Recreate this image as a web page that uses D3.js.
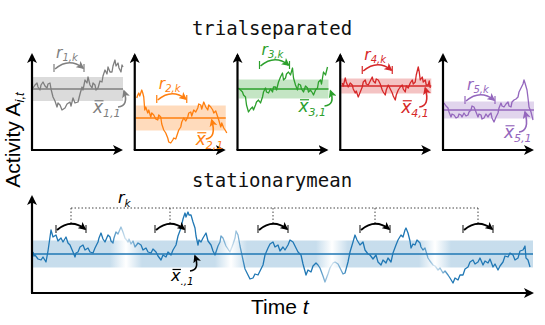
<!DOCTYPE html>
<html>
<head>
<meta charset="utf-8">
<script src="https://cdn.jsdelivr.net/npm/d3@7"></script>
<style>
body { margin: 0; background: #fff; }
</style>
</head>
<body>
<svg id="chart" width="545" height="325"></svg>
<script>
// activity traces, [time, activity]
const trial1 = [[0,6.2],[2,6.5],[4,6.7],[5,6.3],[7,6.0],[8,6.5],[10,6.8],[12,6.4],[14,6.2],[15,6.6],[17,6.7],[18,6.1],[20,5.3],[22,4.9],[24,4.3],[25,4.7],[27,4.5],[29,4.0],[32,4.2],[34,4.6],[37,4.8],[38,4.4],[40,5.2],[42,4.7],[45,4.8],[47,5.6],[49,6.3],[50,6.0],[52,7.0],[54,6.7],[55,7.3],[57,6.5],[59,6.2],[60,6.7],[62,6.5],[63,6.0],[65,6.2],[67,6.9],[69,6.8],[70,7.4],[72,8.0],[74,7.6],[75,8.3],[77,7.8],[79,7.8],[80,8.4],[82,9.0],[83,8.4],[85,8.7],[86,8.2],[88,7.8],[89,8.5],[90,8.3]];
const trial2 = [[1,5.2],[2,5.5],[3,5.7],[4,5.4],[6,6.0],[7,5.7],[8,5.3],[9,4.0],[10,4.3],[12,3.7],[13,4.0],[15,3.3],[16,3.7],[18,3.5],[20,3.1],[22,3.0],[23,3.5],[25,3.3],[26,2.6],[28,2.0],[30,1.7],[32,1.2],[33,0.8],[35,0.7],[37,1.0],[38,1.2],[40,1.1],[42,1.7],[43,2.0],[45,2.3],[46,2.8],[48,3.2],[50,2.9],[52,3.3],[53,3.7],[55,3.8],[56,3.4],[58,4.0],[60,3.8],[62,4.2],[63,4.6],[65,4.5],[66,4.1],[68,4.8],[70,4.3],[72,4.0],[73,4.5],[75,4.3],[77,4.0],[78,3.7],[80,3.9],[82,3.3],[83,3.0],[85,2.3],[86,2.7],[88,2.2],[90,1.9],[91,1.7]];
const trial3 = [[0,6.2],[2,6.0],[4,5.8],[5,5.5],[7,5.3],[8,4.5],[10,3.8],[12,4.1],[14,4.3],[15,4.0],[17,4.5],[18,4.8],[20,5.0],[22,4.7],[24,5.3],[25,5.8],[27,6.2],[28,5.8],[30,5.7],[32,6.1],[34,5.8],[35,6.3],[37,6.3],[38,6.0],[40,6.8],[42,7.3],[44,7.7],[45,7.0],[47,7.2],[48,7.6],[50,7.8],[52,7.5],[54,8.2],[55,7.2],[57,6.5],[59,6.0],[60,6.6],[62,6.5],[63,6.1],[65,5.8],[67,6.4],[69,6.2],[70,5.8],[72,6.0],[74,5.7],[75,5.5],[77,6.0],[79,6.2],[80,6.8],[82,7.0],[83,6.6],[85,7.8],[87,7.5],[89,8.3]];
const trial4 = [[1,6.7],[2,6.4],[4,7.2],[5,6.8],[7,6.3],[9,6.7],[11,6.5],[12,6.1],[14,5.7],[15,5.9],[17,5.3],[19,5.8],[21,6.3],[22,6.8],[24,7.0],[25,6.6],[27,6.5],[29,6.9],[31,7.3],[32,6.9],[34,6.7],[35,7.1],[37,7.0],[39,6.6],[41,6.0],[42,5.8],[44,5.5],[45,6.0],[47,6.5],[49,6.1],[51,5.7],[52,5.4],[54,5.0],[55,5.5],[57,6.0],[59,6.3],[61,6.5],[62,6.1],[64,5.8],[65,6.4],[67,6.2],[69,6.7],[71,7.0],[72,6.6],[74,6.8],[75,7.5],[77,8.3],[78,7.8],[79,7.0],[81,7.3],[82,6.8],[84,7.0],[85,6.5],[87,6.5],[88,6.9],[89,6.2]];
const trial5 = [[0,4.7],[2,4.4],[4,4.2],[5,3.8],[7,3.3],[8,3.6],[10,3.5],[12,3.2],[14,3.3],[15,3.6],[17,3.5],[18,3.3],[20,3.7],[22,3.4],[24,3.5],[25,3.8],[27,4.0],[28,4.4],[30,4.3],[32,3.8],[34,3.3],[35,3.6],[37,3.5],[38,3.1],[40,3.2],[42,3.6],[44,3.3],[45,3.5],[47,3.7],[48,3.2],[50,2.8],[52,3.3],[54,3.7],[55,4.2],[57,4.7],[58,4.4],[60,4.3],[62,4.6],[64,4.8],[65,4.4],[67,4.3],[68,4.8],[70,5.0],[72,5.1],[74,5.3],[75,5.8],[77,6.2],[79,6.6],[80,7.0],[81,6.7],[83,6.0],[84,5.2],[85,4.3],[87,3.8],[89,3.0]];

const trialSeries = [trial1, trial2, trial3, trial4, trial5];
const trialNames = ["1", "2", "3", "4", "5"];
const trialColors = ["#7f7f7f", "#ff7f0e", "#2ca02c", "#d62728", "#9467bd"];
const trialMeans = [6.1, 3.2, 6.1, 6.4, 4.0];
const trialStd = [1.2, 1.25, 0.95, 0.75, 0.85];
// where the annotations sit, in activity units
const bracketLevel = [8.2, 5.1, 8.5, 8.0, 5.0];
const meanLabelLevel = [3.7, 0.5, 3.8, 3.7, 1.2];
const meanArrowTime = [91, 76, 92, 84, 81];

// stationary mean: one long recording
const stationary = [[0,0.2],[1,-0.2],[2,-0.1],[5,-0.5],[8,-0.6],[10,-0.3],[13,-0.8],[15,0.3],[18,2.4],[20,1.7],[23,1.9],[25,1.3],[28,1.6],[30,1.2],[33,1.7],[35,1.1],[37,0.9],[40,0.2],[42,-0.3],[43,0.1],[45,0.2],[47,0.7],[50,0.9],[52,0.4],[55,0.6],[57,0.2],[60,0.1],[62,0.6],[65,1.2],[66,1.6],[68,2.1],[70,1.5],[72,1.2],[75,1.9],[77,1.7],[78,1.3],[80,1.1],[81,1.6],[83,2.2],[85,2.0],[88,2.7],[90,2.2],[92,1.6],[95,1.2],[96,1.5],[98,1.0],[100,1.3],[102,0.7],[105,1.1],[108,0.9],[110,0.4],[113,0.6],[115,0.2],[118,0.1],[120,0.5],[123,0.2],[125,-0.2],[128,-0.6],[130,-0.1],[133,-0.3],[135,0.2],[138,-0.1],[140,0.4],[143,0.9],[145,1.8],[148,2.6],[150,3.5],[152,4.1],[153,3.7],[155,4.2],[156,3.9],[158,3.9],[160,3.2],[162,2.6],[163,1.8],[165,0.9],[166,1.4],[168,1.2],[170,1.6],[173,2.1],[175,1.3],[178,0.9],[180,0.3],[182,-0.1],[185,0.8],[187,1.2],[188,1.8],[190,1.6],[193,0.8],[197,0.2],[200,1.0],[202,1.6],[203,2.3],[205,1.9],[207,0.8],[210,-0.6],[212,-1.5],[215,-2.1],[217,-2.5],[220,-2.4],[222,-2.0],[225,-2.1],[227,-1.7],[230,-1.1],[232,-0.1],[235,0.6],[237,1.0],[240,1.2],[242,0.7],[245,0.9],[247,0.3],[250,0.7],[252,0.4],[255,0.9],[257,1.4],[260,1.2],[262,0.8],[265,0.2],[268,-0.1],[270,-1.0],[273,-2.1],[275,-1.6],[278,-1.8],[280,-1.2],[283,-0.9],[285,-1.1],[287,-1.4],[290,-2.2],[292,-2.8],[295,-2.0],[297,-1.4],[300,-0.9],[302,-0.8],[305,-1.0],[307,-1.4],[310,-2.0],[312,-1.9],[315,-0.8],[317,0.2],[320,1.2],[322,1.9],[324,1.4],[327,0.9],[330,1.2],[332,0.4],[335,0.0],[337,-0.1],[340,-0.5],[343,-0.1],[345,-0.8],[348,-1.1],[350,-0.6],[353,-0.9],[355,-0.4],[358,-0.8],[360,0.1],[363,0.9],[365,1.4],[368,1.9],[370,1.7],[372,2.4],[373,2.6],[375,2.1],[377,1.3],[378,0.6],[380,1.0],[382,0.9],[384,1.4],[387,1.1],[388,0.7],[390,0.4],[392,0.6],[395,-0.4],[397,-0.7],[400,-1.1],[402,-1.2],[405,-1.6],[407,-1.4],[410,-1.9],[412,-1.7],[415,-2.1],[417,-2.4],[420,-2.9],[422,-2.4],[425,-2.6],[427,-2.1],[430,-2.1],[432,-1.5],[435,-1.3],[437,-0.8],[440,-0.6],[442,-1.0],[445,-0.8],[447,-0.4],[450,-1.1],[452,-0.7],[455,-0.9],[457,-0.5],[460,-1.3],[462,-1.0],[465,-1.6],[467,-1.2],[470,-0.8],[472,-0.2],[475,-0.3],[477,0.1],[480,-0.1],[482,-0.6],[485,-0.4],[487,0.3],[490,0.4],[492,0.8],[493,-0.4],[495,-0.6],[497,-1.3]];
const stationaryMean = 0;
const stationaryStd = 1.35;
const trialBoundaries = [93, 198, 299, 402];
const bracketStarts = [23, 122, 225, 327, 430];
const bracketLength = 30;
const bracketLevelBottom = 2.5;

const blue = "#1f77b4";
const mathFont = "DejaVu Sans";
const textFont = "Liberation Sans, Arial, sans-serif";
const monoFont = "DejaVu Sans Mono, monospace";

const svg = d3.select("#chart");
const defs = svg.append("defs");

function marker(id, color, size) {
  defs.append("marker")
    .attr("id", id)
    .attr("viewBox", "0 0 10 10")
    .attr("refX", 8).attr("refY", 5)
    .attr("markerWidth", size).attr("markerHeight", size)
    .attr("markerUnits", "userSpaceOnUse")
    .attr("orient", "auto")
    .append("path")
    .attr("d", "M0,0 L10,5 L0,10 L2.5,5 Z")
    .attr("fill", color);
}
marker("axisHead", "#000", 10);
marker("blackHead", "#000", 8);
trialColors.forEach((c, i) => marker("head" + i, c, 8));

// math label: base letter + subscript, optional bar over the base
function mathLabel(g, x, y, base, sub, color, size, bar) {
  let t = g.append("text")
    .attr("x", x).attr("y", y)
    .attr("font-family", mathFont)
    .attr("font-style", "italic")
    .attr("font-size", size)
    .attr("fill", color);
  t.append("tspan").text(base);
  t.append("tspan").attr("dy", size * 0.25).attr("font-size", size * 0.65).text(sub);
  if (bar) {
    g.append("line")
      .attr("x1", x + 1.5).attr("x2", x + size * 0.62)
      .attr("y1", y - size * 0.72).attr("y2", y - size * 0.72)
      .attr("stroke", color).attr("stroke-width", 1.2);
  }
}

function bracket(g, x1, x2, y, color, head, tickColor, width) {
  [x1, x2].forEach(xx => {
    g.append("line")
      .attr("x1", xx).attr("x2", xx)
      .attr("y1", y - 4).attr("y2", y + 4)
      .attr("stroke", tickColor).attr("stroke-width", 1.2);
  });
  g.append("path")
    .attr("d", "M" + (x1 + 1) + "," + (y + 1) + " Q" + ((x1 + x2) / 2) + "," + (y - 11) + " " + (x2 - 1) + "," + y)
    .attr("fill", "none")
    .attr("stroke", color)
    .attr("stroke-width", width)
    .attr("marker-end", "url(#" + head + ")");
}

function curvedArrow(g, x0, y0, x1, y1, color, head) {
  g.append("path")
    .attr("d", "M" + x0 + "," + y0 + " Q" + (x1 + 5) + "," + (y0 - 1) + " " + x1 + "," + y1)
    .attr("fill", "none")
    .attr("stroke", color)
    .attr("stroke-width", 1.6)
    .attr("marker-end", "url(#" + head + ")");
}

function title(y, label) {
  svg.append("text")
    .attr("x", 272).attr("y", y)
    .attr("text-anchor", "middle")
    .attr("font-family", monoFont)
    .attr("font-size", 19)
    .attr("fill", "#111")
    .text(label);
}

// ---- top row: trial separated ----
let yTop = d3.scaleLinear().domain([0, 9.5]).range([150, 55]);

title(35, "trialseparated");

trialSeries.forEach(function(series, i) {
  let left = 32 + i * 102.75;
  let color = trialColors[i];
  let x = d3.scaleLinear().domain([0, 90]).range([left + 1, left + 91]);
  let g = svg.append("g");

  g.append("rect")
    .attr("x", x(0)).attr("width", x(90) - x(0))
    .attr("y", yTop(trialMeans[i] + trialStd[i]))
    .attr("height", yTop(trialMeans[i] - trialStd[i]) - yTop(trialMeans[i] + trialStd[i]))
    .attr("fill", color).attr("fill-opacity", 0.28);

  g.append("line")
    .attr("x1", x(0)).attr("x2", x(90))
    .attr("y1", yTop(trialMeans[i])).attr("y2", yTop(trialMeans[i]))
    .attr("stroke", color).attr("stroke-width", 1.3);

  let valueline = d3.line()
    .x(function(d) { return x(d[0]); })
    .y(function(d) { return yTop(d[1]); });

  g.append("path")
    .datum(series)
    .attr("d", valueline)
    .attr("fill", "none")
    .attr("stroke", color)
    .attr("stroke-width", 1.3)
    .attr("stroke-linejoin", "round");

  // axes
  g.append("path")
    .attr("d", "M" + left + "," + yTop(0) + " V" + (yTop(9.5)))
    .attr("stroke", "#000").attr("stroke-width", 2.2)
    .attr("marker-end", "url(#axisHead)");
  g.append("path")
    .attr("d", "M" + (left - 1) + "," + yTop(0) + " H" + (left + 89))
    .attr("stroke", "#000").attr("stroke-width", 2.2)
    .attr("marker-end", "url(#axisHead)");

  // r_{i,k}
  let by = yTop(bracketLevel[i]);
  bracket(g, x(21), x(51), by, color, "head" + i, color, 1.6);
  mathLabel(g, x(23), by - 10.5, "r", trialNames[i] + ",k", color, 15.5, false);

  // mean label and arrow
  let ly = yTop(meanLabelLevel[i]);
  let lx = x(60);
  mathLabel(g, lx, ly, "x", trialNames[i] + ",1", color, 17, true);
  let ax = x(meanArrowTime[i]);
  curvedArrow(g, ax - 6, ly - 6, ax, yTop(trialMeans[i]) + 2, color, "head" + i);
});

// ---- bottom row: stationary mean ----
let xb = d3.scaleLinear().domain([0, 500]).range([33, 533]);
let yb = d3.scaleLinear().domain([-4, 6]).range([294, 194]);

title(187, "stationarymean");

function fadeGradient(id, full, faded) {
  let grad = defs.append("linearGradient")
    .attr("id", id)
    .attr("gradientUnits", "userSpaceOnUse")
    .attr("x1", xb(0)).attr("x2", xb(500))
    .attr("y1", 0).attr("y2", 0);
  let stops = [[0, full]];
  trialBoundaries.forEach(function(b) {
    stops.push([b - 16, full], [b, faded], [b + 16, full]);
  });
  stops.push([500, full]);
  stops.forEach(function(s) {
    grad.append("stop")
      .attr("offset", s[0] / 500)
      .attr("stop-color", blue)
      .attr("stop-opacity", s[1]);
  });
}
fadeGradient("bandFade", 0.25, 0);
fadeGradient("lineFade", 1, 0.2);

svg.append("rect")
  .attr("x", xb(0)).attr("width", xb(500) - xb(0))
  .attr("y", yb(stationaryMean + stationaryStd))
  .attr("height", yb(stationaryMean - stationaryStd) - yb(stationaryMean + stationaryStd))
  .attr("fill", "url(#bandFade)");

svg.append("line")
  .attr("x1", xb(0)).attr("x2", xb(500))
  .attr("y1", yb(stationaryMean)).attr("y2", yb(stationaryMean))
  .attr("stroke", blue).attr("stroke-width", 1.3);

let stationaryLine = d3.line()
  .x(function(d) { return xb(d[0]); })
  .y(function(d) { return yb(d[1]); });

svg.append("path")
  .datum(stationary)
  .attr("d", stationaryLine)
  .attr("fill", "none")
  .attr("stroke", "url(#lineFade)")
  .attr("stroke-width", 1.3)
  .attr("stroke-linejoin", "round");

// dotted r_k connector
let dotY = 208;
let bby = yb(bracketLevelBottom);
let mids = bracketStarts.map(s => xb(s + bracketLength / 2));
svg.append("path")
  .attr("d", "M" + mids[0] + "," + dotY + " H" + mids[mids.length - 1])
  .attr("stroke", "#444").attr("stroke-width", 1)
  .attr("stroke-dasharray", "1.5,2").attr("fill", "none");
mids.forEach(function(m) {
  svg.append("line")
    .attr("x1", m).attr("x2", m)
    .attr("y1", dotY).attr("y2", bby - 6)
    .attr("stroke", "#444").attr("stroke-width", 1)
    .attr("stroke-dasharray", "1.5,2");
});
bracketStarts.forEach(function(s) {
  bracket(svg, xb(s), xb(s + bracketLength), bby, "#000", "blackHead", "#333", 2);
});
mathLabel(svg, 118, 203, "r", "k", "#000", 16, false);

// mean label
mathLabel(svg, 171, 281, "x", ".,1", "#000", 16, true);
curvedArrow(svg, 190, 271, 195, yb(stationaryMean) + 2, "#000", "blackHead");

// axes
svg.append("path")
  .attr("d", "M32," + yb(-3.9) + " V" + yb(5.7))
  .attr("stroke", "#000").attr("stroke-width", 2.2)
  .attr("marker-end", "url(#axisHead)");
svg.append("path")
  .attr("d", "M31," + yb(-3.9) + " H532")
  .attr("stroke", "#000").attr("stroke-width", 2.2)
  .attr("marker-end", "url(#axisHead)");

// axis titles
let yt = svg.append("text")
  .attr("transform", "translate(20,140) rotate(-90)")
  .attr("text-anchor", "middle")
  .attr("font-family", textFont)
  .attr("font-size", 21);
yt.append("tspan").text("Activity A");
yt.append("tspan").attr("dy", 4).attr("font-size", 13).attr("font-style", "italic").text("i,t");

let xt = svg.append("text")
  .attr("x", 251).attr("y", 314)
  .attr("font-family", textFont)
  .attr("font-size", 21);
xt.append("tspan").text("Time ");
xt.append("tspan").attr("font-style", "italic").text("t");
</script>
</body>
</html>
